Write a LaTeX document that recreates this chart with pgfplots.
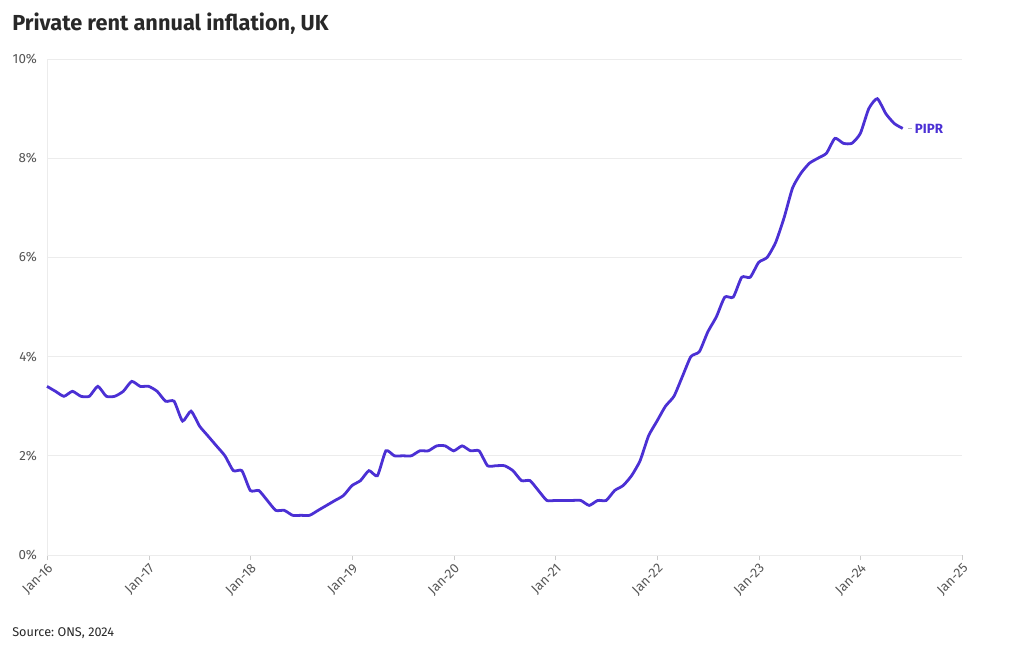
\documentclass[border=0pt]{standalone}
\usepackage{pgfplots}
\pgfplotsset{compat=1.18}
\usepackage{fontspec}
\setmainfont{Fira Sans}
\frenchspacing

\definecolor{linepurple}{RGB}{75,48,212}
\definecolor{ticktext}{RGB}{85,85,85}
\definecolor{gridgray}{RGB}{236,236,236}
\definecolor{titletext}{RGB}{40,40,40}

\begin{document}
\begin{tikzpicture}
\useasboundingbox (-35.25pt,-71.25pt) rectangle (729.75pt,416.25pt);

\begin{axis}[
at={(0,0)}, anchor=south west,
scale only axis,
width=686.25pt, height=372pt,
xmin=0, xmax=108,
ymin=0, ymax=10,
xtick={0,12,...,108},
xticklabels={Jan-16,Jan-17,Jan-18,Jan-19,Jan-20,Jan-21,Jan-22,Jan-23,Jan-24,Jan-25},
ytick={0,2,...,10},
yticklabel={\pgfmathprintnumber{\tick}\%},
/pgf/number format/assume math mode=true,
xticklabel style={rotate=45, anchor=north east, font=\fontsize{10}{11}\selectfont, text=ticktext, inner sep=1pt},
yticklabel style={font=\fontsize{10}{11}\selectfont, text=ticktext},
tick align=outside,
xtick pos=bottom,
ytick pos=left,
major tick length=4pt,
xtick style={draw=gray!40},
ytick style={draw=none},
ymajorgrids,
grid style={gridgray, line width=0.6pt},
axis line style={draw=gridgray, line width=0.6pt},
separate axis lines,
axis x line*=bottom,
axis y line*=left,
clip=false,
]
\addplot [line width=2.1pt, linepurple, smooth, tension=0.35]
table {%
0 3.4
1 3.3
2 3.2
3 3.3
4 3.2
5 3.2
6 3.4
7 3.2
8 3.2
9 3.3
10 3.5
11 3.4
12 3.4
13 3.3
14 3.1
15 3.1
16 2.7
17 2.9
18 2.6
19 2.4
20 2.2
21 2.0
22 1.7
23 1.7
24 1.3
25 1.3
26 1.1
27 0.9
28 0.9
29 0.8
30 0.8
31 0.8
32 0.9
33 1.0
34 1.1
35 1.2
36 1.4
37 1.5
38 1.7
39 1.6
40 2.1
41 2.0
42 2.0
43 2.0
44 2.1
45 2.1
46 2.2
47 2.2
48 2.1
49 2.2
50 2.1
51 2.1
52 1.8
53 1.8
54 1.8
55 1.7
56 1.5
57 1.5
58 1.3
59 1.1
60 1.1
61 1.1
62 1.1
63 1.1
64 1.0
65 1.1
66 1.1
67 1.3
68 1.4
69 1.6
70 1.9
71 2.4
72 2.7
73 3.0
74 3.2
75 3.6
76 4.0
77 4.1
78 4.5
79 4.8
80 5.2
81 5.2
82 5.6
83 5.6
84 5.9
85 6.0
86 6.3
87 6.8
88 7.4
89 7.7
90 7.9
91 8.0
92 8.1
93 8.4
94 8.3
95 8.3
96 8.5
97 9.0
98 9.2
99 8.9
100 8.7
101 8.6
};
\draw [gray!50, line width=0.6pt] ([xshift=4pt]axis cs:101,8.6) -- ([xshift=7pt]axis cs:101,8.6);
\node [anchor=west, inner sep=0pt, text=linepurple, font=\fontsize{10}{11}\selectfont\bfseries]
  at ([xshift=9pt]axis cs:101,8.6) {PIPR};
\end{axis}

\node [anchor=base west, inner sep=0pt, text=titletext, font=\fontsize{16.3}{19}\selectfont\bfseries]
  at (-26.25pt,393pt) {Private rent annual inflation, UK};
\node [anchor=base west, inner sep=0pt, text=titletext, font=\fontsize{9.5}{11}\selectfont]
  at (-26.25pt,-60.75pt) {Source: ONS, 2024};
\end{tikzpicture}
\end{document}
